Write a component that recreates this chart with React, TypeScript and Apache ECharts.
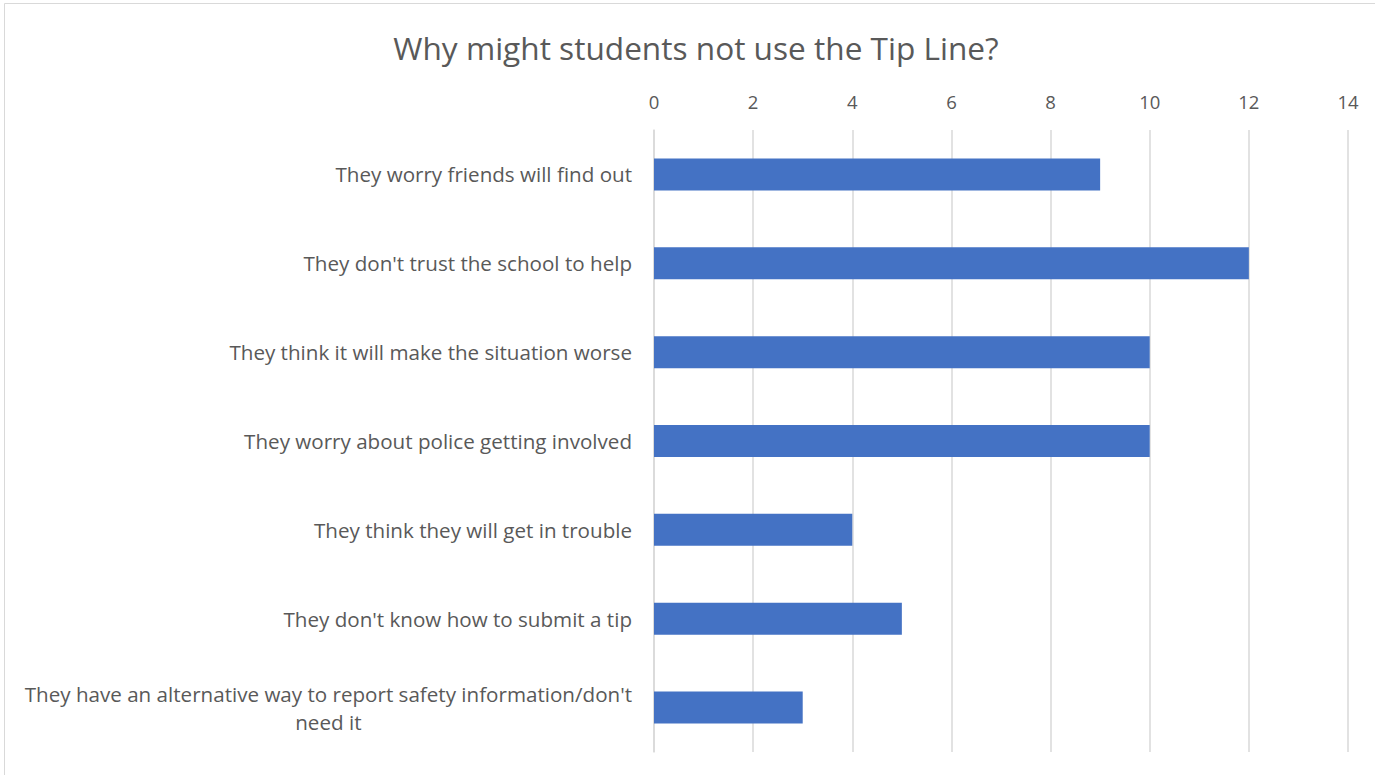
import React, { useEffect, useRef } from "react";
import * as echarts from "echarts";

const categories = [
  "They worry friends will find out",
  "They don't trust the school to help",
  "They think it will make the situation worse",
  "They worry about police getting involved",
  "They think they will get in trouble",
  "They don't know how to submit a tip",
  "They have an alternative way to report safety information/don't need it",
];
const values = [9, 12, 10, 10, 4, 5, 3];
const titleText = "Why might students not use the Tip Line?";

const FONT = "'Open Sans', 'Noto Sans', sans-serif";

export default function App() {
  const ref = useRef<HTMLDivElement>(null);
  useEffect(() => {
    const chart = echarts.init(ref.current!, null, { renderer: "svg" });
    chart.setOption({
      animation: false,
      backgroundColor: "#ffffff",
      title: {
        text: titleText,
        left: 691,
        textAlign: "center",
        top: 26,
        textStyle: { fontFamily: FONT, fontSize: 31.6, fontWeight: "normal", color: "#595959" },
      },
      graphic: [
        {
          type: "rect",
          shape: { x: 4.5, y: 3.5, width: 1500, height: 900 },
          style: { fill: "none", stroke: "#d9d9d9", lineWidth: 1 },
          silent: true,
        },
      ],
      grid: { left: 654, right: 27, top: 130, bottom: 23 },
      xAxis: {
        type: "value",
        position: "top",
        min: 0,
        max: 14,
        interval: 2,
        axisLine: { show: false },
        axisTick: { show: false },
        axisLabel: { fontFamily: FONT, fontSize: 18.5, color: "#595959", margin: 19 },
        splitLine: { lineStyle: { color: "#d9d9d9", width: 1.5 } },
      },
      yAxis: {
        type: "category",
        inverse: true,
        data: categories,
        axisLine: { show: true, lineStyle: { color: "#d9d9d9", width: 1.5 } },
        axisTick: { show: false },
        axisLabel: {
          fontFamily: FONT,
          fontSize: 20.6,
          color: "#595959",
          margin: 22,
          lineHeight: 28,
          formatter: (v: string) => {
            const key = "information/don't ";
            const i = v.indexOf(key);
            if (i >= 0) {
              const a = v.slice(0, i + key.length - 1);
              const b = v.slice(i + key.length);
              return "{c|" + a + "}\n{c|" + b + "}";
            }
            return v;
          },
          rich: {
            c: { fontFamily: FONT, fontSize: 20.6, color: "#595959", align: "center", lineHeight: 28 },
          },
        },
      },
      series: [
        {
          type: "bar",
          data: values,
          barWidth: "36%",
          itemStyle: { color: "#4472C4" },
        },
      ],
    });
    return () => chart.dispose();
  }, []);
  return (
    <div
      ref={ref}
      style={{ position: "fixed", left: 0, top: 0, width: 1375, height: 775 }}
    />
  );
}
